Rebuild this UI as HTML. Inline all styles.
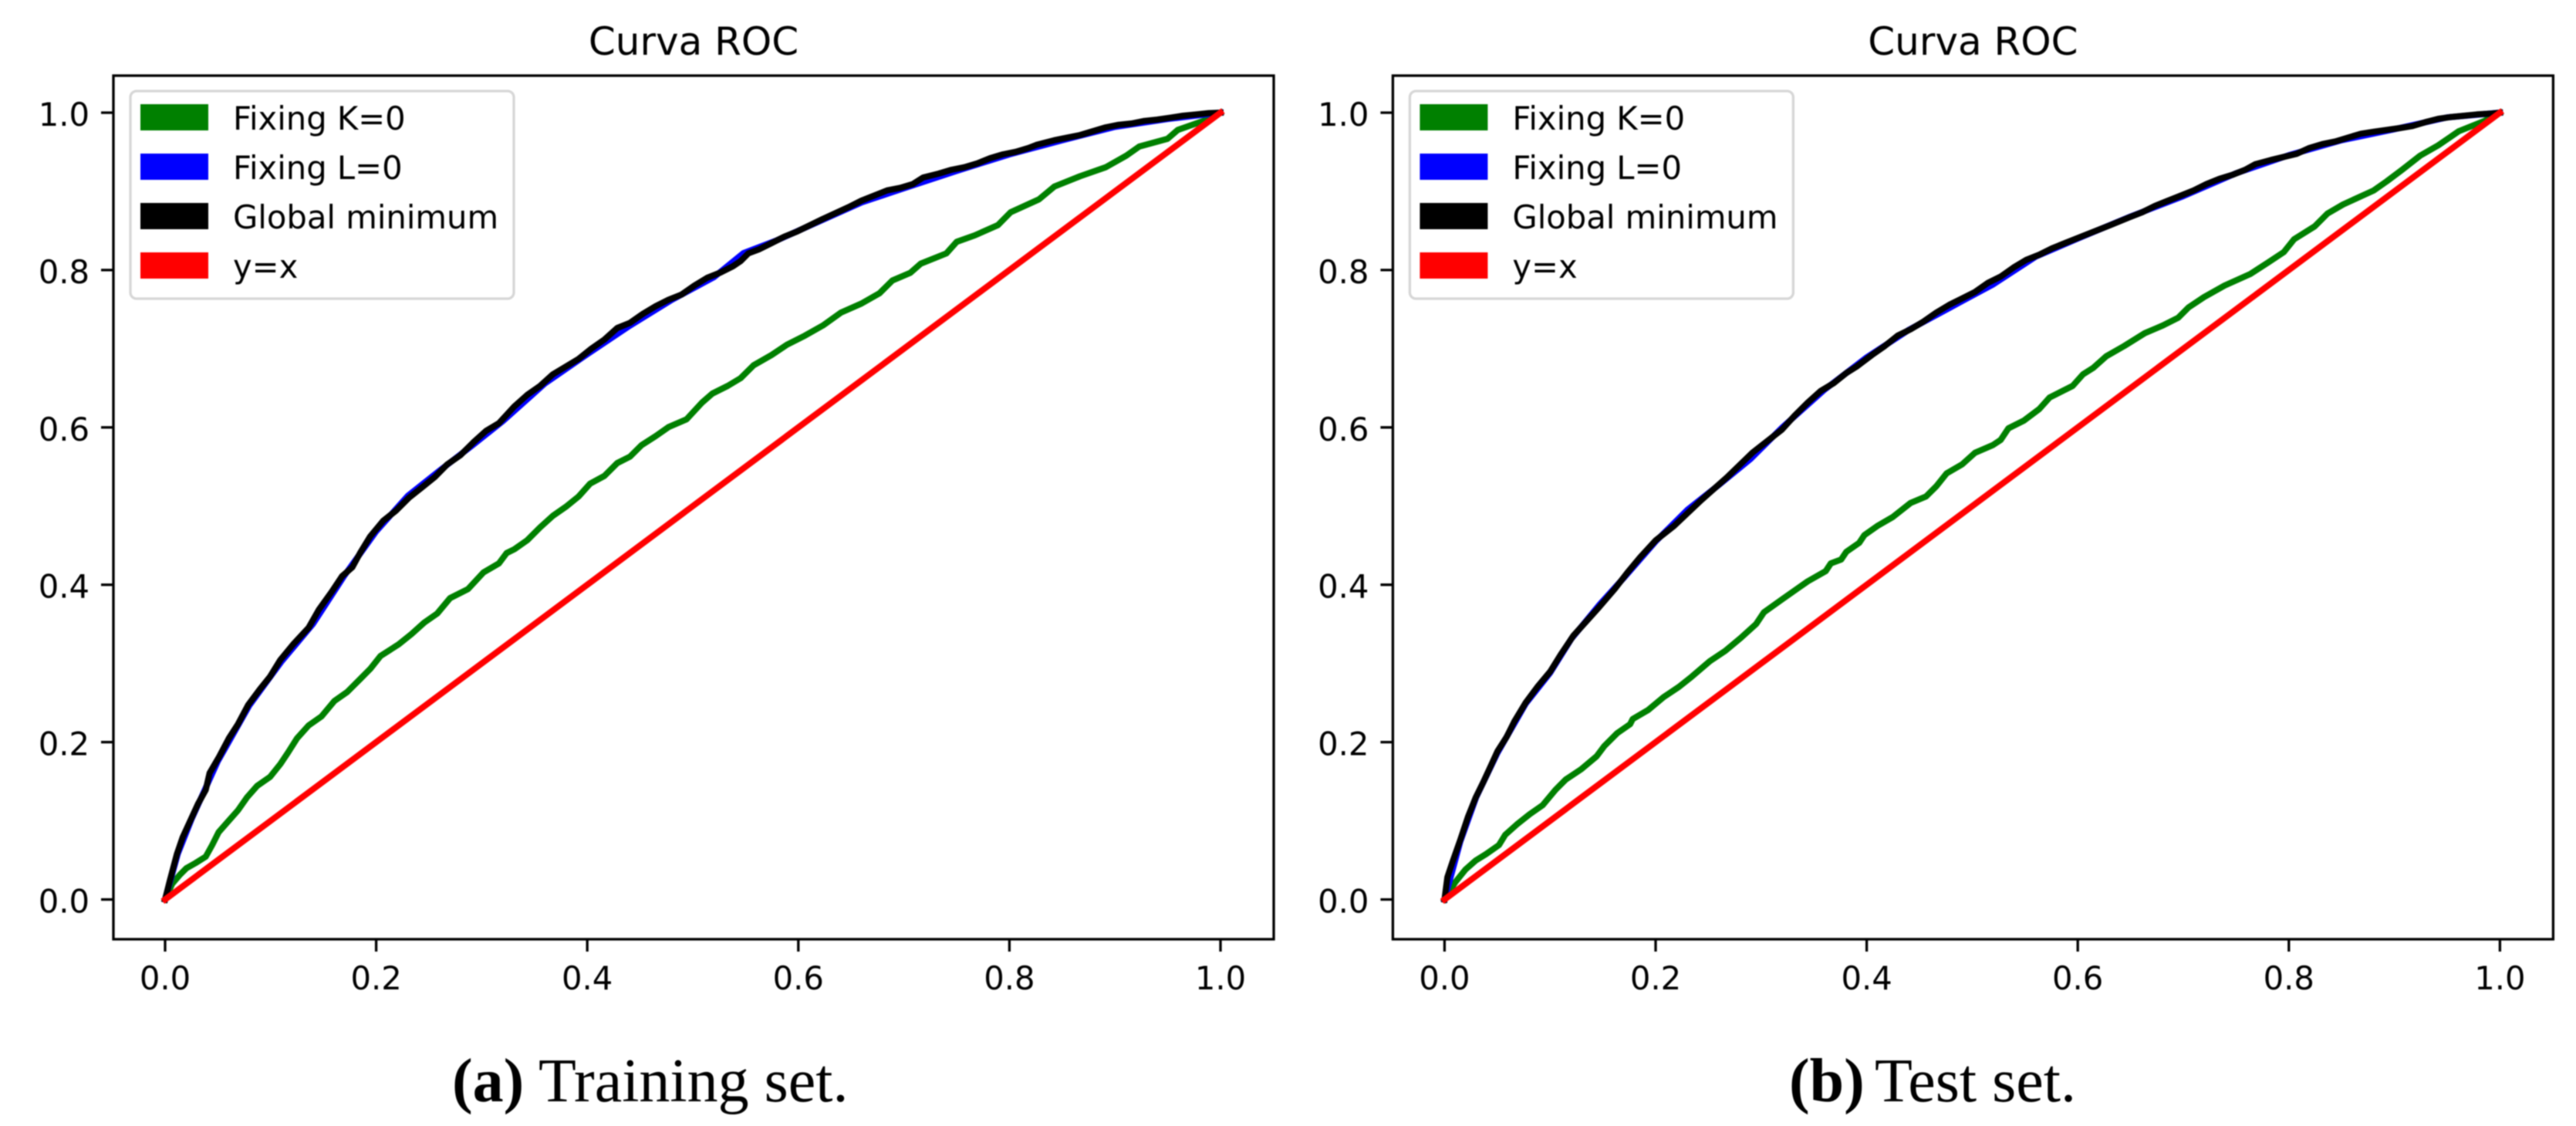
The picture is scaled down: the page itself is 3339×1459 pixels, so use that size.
<!DOCTYPE html>
<html lang="en">
<head>
<meta charset="utf-8">
<title>Curva ROC</title>
<style>
html,body{margin:0;padding:0;background:#fff;}
svg{display:block;filter:blur(0.9px);}
.tick-label{font-family:"DejaVu Sans","Liberation Sans",sans-serif;font-size:41.7px;fill:#000;}
.title{font-family:"DejaVu Sans","Liberation Sans",sans-serif;font-size:50px;fill:#000;}
.legend-text{font-family:"DejaVu Sans","Liberation Sans",sans-serif;font-size:41.7px;fill:#000;}
.caption{font-family:"Liberation Serif",serif;font-size:80px;fill:#000;}
</style>
</head>
<body>
<svg id="chart" xmlns="http://www.w3.org/2000/svg" width="3339" height="1459" viewBox="0 0 3339 1459">
  <rect x="0" y="0" width="3339" height="1459" fill="#fff"/>
  <g id="panel-a"></g>
  <g id="panel-b"></g>

  <g>
    <rect x="169" y="118" width="497" height="269" rx="8" ry="8" fill="#fff" fill-opacity="0.8" stroke="#d6d6d6" stroke-width="3.3"/>
    <rect x="182" y="135" width="88" height="34" fill="#008000"/>
    <text class="legend-text" x="302" y="168">Fixing K=0</text>
    <rect x="182" y="199" width="88" height="34" fill="#0000ff"/>
    <text class="legend-text" x="302" y="232">Fixing L=0</text>
    <rect x="182" y="263" width="88" height="34" fill="#000"/>
    <text class="legend-text" x="302" y="296">Global minimum</text>
    <rect x="182" y="327" width="88" height="34" fill="#ff0000"/>
    <text class="legend-text" x="302" y="360">y=x</text>
  </g>

  <g>
    <rect x="1827.4" y="118" width="497" height="269" rx="8" ry="8" fill="#fff" fill-opacity="0.8" stroke="#d6d6d6" stroke-width="3.3"/>
    <rect x="1840.4" y="135" width="88" height="34" fill="#008000"/>
    <text class="legend-text" x="1960.4" y="168">Fixing K=0</text>
    <rect x="1840.4" y="199" width="88" height="34" fill="#0000ff"/>
    <text class="legend-text" x="1960.4" y="232">Fixing L=0</text>
    <rect x="1840.4" y="263" width="88" height="34" fill="#000"/>
    <text class="legend-text" x="1960.4" y="296">Global minimum</text>
    <rect x="1840.4" y="327" width="88" height="34" fill="#ff0000"/>
    <text class="legend-text" x="1960.4" y="360">y=x</text>
  </g>

  <text class="title" x="899" y="71" text-anchor="middle">Curva ROC</text>
  <text class="title" x="2557.4" y="71" text-anchor="middle">Curva ROC</text>

  <g>
    <text class="caption" x="586" y="1427" font-weight="bold">(a)</text>
    <text class="caption" x="698" y="1427">Training set.</text>
  </g>
  <g>
    <text class="caption" x="2319" y="1427" font-weight="bold">(b)</text>
    <text class="caption" x="2430" y="1427">Test set.</text>
  </g>
</svg>

<script>
const tickValues = [0, 0.2, 0.4, 0.6, 0.8, 1.0];
const tickLabels = ["0.0", "0.2", "0.4", "0.6", "0.8", "1.0"];

const diagonalX = [0, 1];
const diagonalY = [0, 1];

const trainKX = [0,.0068,.0141,.0202,.0288,.0385,.0446,.0507,.0604,.069,.0775,.0872,.0994,.1092,.1165,.125,.136,.1481,.1603,.1725,.1847,.1944,.2041,.2212,.2334,.2456,.2578,.27,.287,.3017,.3163,.3236,.3309,.3431,.3553,.3675,.3797,.3918,.4028,.4162,.4284,.4405,.4515,.4649,.4771,.4941,.5087,.5185,.5331,.5453,.5575,.5746,.5892,.6062,.6233,.6404,.6598,.6769,.6891,.7062,.716,.7403,.7501,.7671,.7891,.8012,.828,.8426,.8669,.8913,.9108,.923,.9498,.9596,.9839,1];
const trainKY = [0,.0201,.0316,.0397,.0463,.0544,.0692,.0855,.1002,.1133,.1296,.1444,.1558,.1721,.1869,.2048,.2212,.2326,.2522,.2637,.28,.2931,.3095,.3242,.3373,.352,.3634,.383,.3945,.4157,.4272,.4403,.4451,.4566,.473,.4877,.4991,.5122,.5286,.5383,.5547,.5628,.5775,.589,.6005,.6103,.6315,.643,.6528,.6626,.6789,.692,.7051,.7166,.7296,.746,.7574,.7705,.7868,.7966,.8081,.8212,.8359,.844,.8571,.8735,.8898,.9061,.9192,.9307,.9455,.9569,.9667,.9781,.9896,1];

const trainLX = [0,.012,.025,.05,.08,.11,.14,.17,.2,.23,.26,.29,.32,.36,.4,.44,.48,.52,.548,.58,.62,.66,.7,.75,.8,.85,.9,.95,1];
const trainLY = [0,.058,.102,.176,.247,.302,.35,.412,.468,.513,.545,.576,.608,.656,.693,.729,.762,.791,.8215,.838,.862,.886,.904,.926,.947,.965,.982,.992,1];

const trainGX = [0,.0044,.0112,.0166,.0239,.0312,.0385,.0422,.0507,.0604,.069,.0787,.0897,.0994,.1092,.1213,.136,.1457,.1579,.1676,.1774,.1847,.1944,.2066,.2188,.231,.2432,.2554,.2675,.2797,.2919,.3041,.3163,.3309,.3431,.3553,.3675,.3797,.3918,.404,.4162,.4284,.4405,.4527,.4649,.4771,.4893,.5015,.5136,.5258,.538,.5453,.5526,.5624,.5746,.5867,.5989,.6233,.6477,.6598,.672,.6842,.6964,.7086,.7183,.7329,.7451,.7573,.7695,.7817,.7939,.8061,.8182,.8255,.8426,.8548,.8669,.8791,.8913,.9035,.9157,.9279,.94,.9522,.9644,.9766,.9888,1];
const trainGY = [0,.0234,.0577,.079,.1002,.1215,.1394,.1607,.1803,.2048,.2228,.2473,.267,.2833,.3046,.3242,.3454,.3683,.3912,.4108,.4223,.4403,.4615,.4812,.4942,.5105,.5236,.5367,.5531,.5645,.5808,.5956,.6054,.6267,.6413,.6528,.6675,.6773,.6871,.7002,.7116,.7263,.7329,.7443,.7541,.7623,.7688,.7803,.7901,.7966,.8048,.8114,.8212,.8261,.8342,.8424,.849,.865,.88,.8882,.8947,.9012,.9045,.9094,.9176,.9225,.9274,.9307,.9356,.9421,.947,.9503,.9552,.959,.965,.9683,.9716,.9765,.9814,.9846,.9863,.9895,.9912,.9935,.9961,.9977,.9994,1];

const testKX = [0,.01,.0198,.0295,.0393,.0515,.0575,.0685,.0807,.0929,.1051,.1149,.1295,.1441,.1514,.1636,.1758,.1783,.1929,.2075,.2221,.2343,.2514,.266,.2807,.2953,.3026,.3197,.3319,.3441,.3612,.366,.3758,.3807,.3929,.3978,.41,.4246,.4416,.4562,.466,.4758,.4904,.5026,.5196,.527,.5343,.5489,.5635,.5733,.5952,.605,.6147,.627,.644,.6635,.6806,.6952,.705,.7196,.7391,.7635,.7805,.7952,.805,.8245,.8366,.8513,.8805,.8927,.9073,.9244,.9415,.961,.9854,1];
const testKY = [0,.0217,.0381,.0495,.0577,.0692,.0822,.0953,.1084,.1198,.1394,.1525,.1656,.182,.195,.2114,.2228,.2293,.2408,.2572,.2702,.2833,.3029,.316,.3324,.3503,.365,.3814,.3928,.4043,.4174,.4272,.4321,.4419,.4533,.4631,.4746,.486,.504,.5122,.5253,.5416,.553,.5677,.5775,.5841,.5988,.6086,.6233,.638,.6528,.6675,.6757,.6904,.7035,.7198,.7296,.7394,.7525,.7656,.7803,.795,.8097,.8228,.8391,.8555,.8718,.8833,.9012,.9127,.9274,.9454,.9585,.9764,.9895,1];

const testLX = [0,.015,.03,.05,.077,.1,.12,.147,.17,.2,.23,.26,.29,.32,.36,.4,.44,.48,.52,.56,.6,.65,.7,.75,.8,.85,.9,.95,1];
const testLY = [0,.074,.13,.186,.249,.288,.331,.375,.409,.455,.495,.527,.56,.6,.648,.689,.724,.753,.782,.817,.84,.868,.894,.923,.946,.965,.979,.994,1];

const testGX = [0,.0027,.0076,.0149,.0222,.0295,.0368,.0441,.0502,.0588,.0661,.0771,.088,.1002,.11,.1222,.1344,.1465,.1612,.1734,.1856,.2002,.2173,.2432,.2676,.2919,.3197,.3319,.3441,.3563,.3685,.3807,.3904,.405,.4172,.4294,.4416,.4538,.466,.4782,.4904,.5026,.5148,.527,.5392,.5514,.5636,.5757,.5879,.6001,.6123,.6306,.6489,.6611,.6733,.6855,.6977,.7099,.722,.7342,.7464,.7586,.7684,.783,.7952,.8074,.8196,.8318,.844,.8561,.8683,.8805,.8927,.9049,.9171,.9293,.9415,.9537,.9659,.978,.9902,1];
const testGY = [0,.0283,.0479,.0757,.1051,.1296,.1493,.1705,.1885,.2065,.2261,.2506,.2702,.2898,.3111,.3356,.3536,.3716,.3945,.4157,.4353,.4566,.4746,.5075,.5365,.568,.5972,.6152,.6315,.6462,.656,.6691,.6773,.692,.7035,.7166,.7247,.7345,.746,.7558,.7639,.7721,.7836,.7917,.8032,.813,.8195,.8277,.8342,.8408,.8473,.857,.867,.8735,.8816,.8882,.8947,.9012,.9094,.9159,.9209,.9274,.9346,.9399,.9438,.9477,.9552,.9601,.9634,.9683,.9732,.9758,.9781,.9804,.983,.9879,.9922,.9945,.9961,.9977,.9987,1];

const SVG_NS = "http://www.w3.org/2000/svg";

function make(tag, attrs, parent) {
  const el = document.createElementNS(SVG_NS, tag);
  for (const k in attrs) el.setAttribute(k, attrs[k]);
  parent.appendChild(el);
  return el;
}

function drawPanel(root, cfg) {
  const xScale = v => cfg.x0 + cfg.xSpan * v;
  const yScale = v => cfg.y0 - cfg.ySpan * v;

  const plotBg = make("rect", {x: cfg.left, y: cfg.top, width: cfg.right - cfg.left, height: cfg.bottom - cfg.top, fill: "#fff"}, root);
  
  

  const seriesList = [
    {xs: cfg.kX, ys: cfg.kY, color: "#008000", name: "fixing-k-line"},
    {xs: cfg.lX, ys: cfg.lY, color: "#0000ff", name: "fixing-l-line"},
    {xs: cfg.gX, ys: cfg.gY, color: "#000000", name: "global-minimum-line"},
    {xs: diagonalX, ys: diagonalY, color: "#ff0000", name: "diagonal-line"}
  ];
  seriesList.forEach(s => {
    const pts = s.xs.map((v, i) => xScale(v).toFixed(1) + "," + yScale(s.ys[i]).toFixed(1)).join(" ");
    const line = make("polyline", {points: pts, fill: "none", stroke: s.color, "stroke-width": 8, "stroke-linejoin": "round", "stroke-linecap": "square"}, root);
    
    
  });

  const frame = make("rect", {x: cfg.left, y: cfg.top, width: cfg.right - cfg.left, height: cfg.bottom - cfg.top, fill: "none", stroke: "#000", "stroke-width": 3.3}, root);
  
  

  tickValues.forEach((v, i) => {
    const xt = make("line", {x1: xScale(v), x2: xScale(v), y1: cfg.bottom, y2: cfg.bottom + 16, stroke: "#000", "stroke-width": 3.3}, root);
    
    

    const xl = make("text", {x: xScale(v), y: cfg.bottom + 65, "text-anchor": "middle", class: "tick-label"}, root);
    
    
    xl.textContent = tickLabels[i];

    const yt = make("line", {x1: cfg.left - 16, x2: cfg.left, y1: yScale(v), y2: yScale(v), stroke: "#000", "stroke-width": 3.3}, root);
    
    

    const yl = make("text", {x: cfg.left - 31, y: yScale(v) + 17, "text-anchor": "end", class: "tick-label"}, root);
    
    
    yl.textContent = tickLabels[i];
  });
}

drawPanel(document.getElementById("panel-a"), {
  left: 147, right: 1651, top: 98, bottom: 1217,
  x0: 214, xSpan: 1368, y0: 1165.5, ySpan: 1019.5,
  kX: trainKX, kY: trainKY, lX: trainLX, lY: trainLY, gX: trainGX, gY: trainGY
});
drawPanel(document.getElementById("panel-b"), {
  left: 1805.4, right: 3309.4, top: 98, bottom: 1217,
  x0: 1872.4, xSpan: 1368, y0: 1165.5, ySpan: 1019.5,
  kX: testKX, kY: testKY, lX: testLX, lY: testLY, gX: testGX, gY: testGY
});
</script>
</body>
</html>
